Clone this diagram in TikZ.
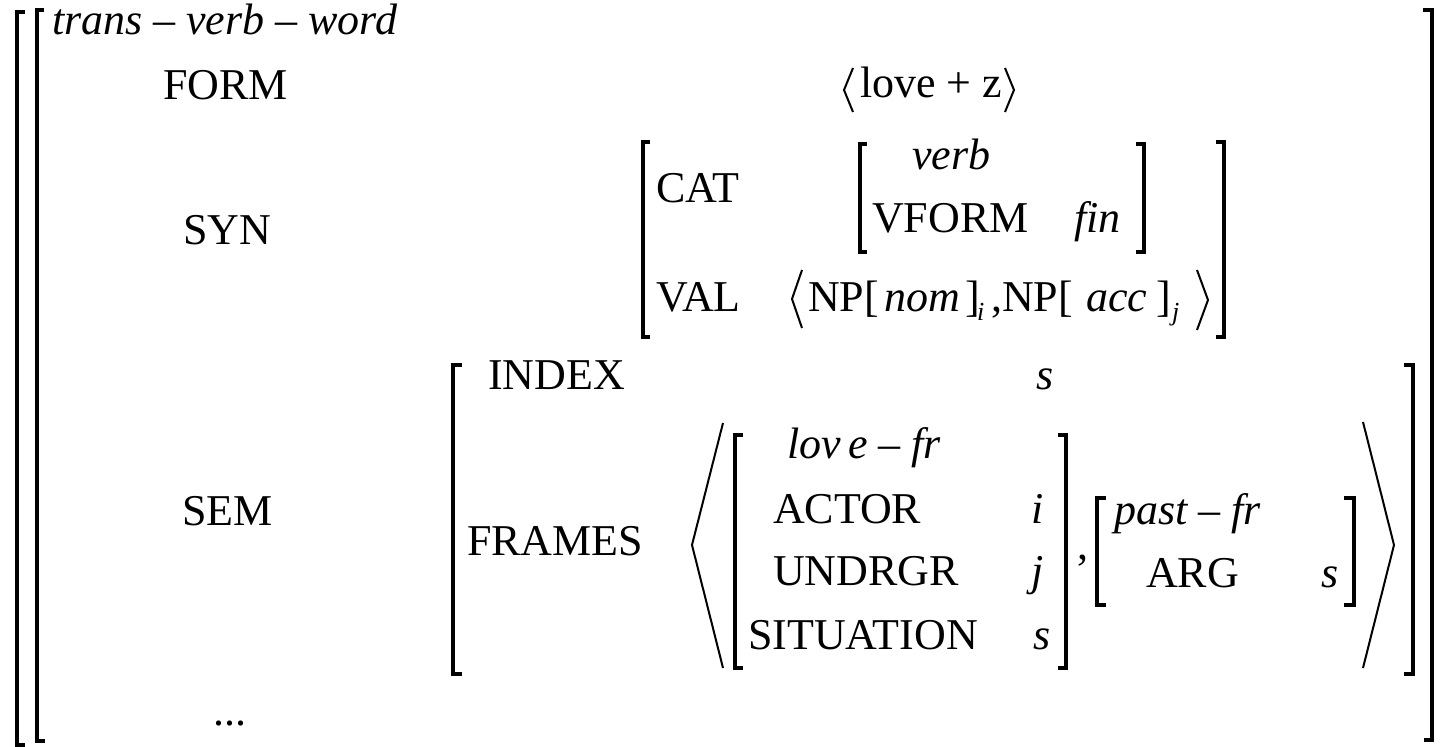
\documentclass[tikz,border=0pt]{standalone}
\usepackage{fontspec}
\setmainfont{Liberation Serif}
\begin{document}
\begin{tikzpicture}[x=0.5pt,y=-0.5pt]
\tikzstyle{every node}+=[inner sep=0pt,outer sep=0pt,anchor=base west,font=\fontsize{22}{26}\selectfont]
\tikzstyle{brak}=[black,line width=1.8pt]
\tikzstyle{ang}=[black,line width=1pt]
\tikzstyle{sub}=[font=\fontsize{13}{15}\selectfont\itshape]
\useasboundingbox (0,0) rectangle (1442,747);
\draw [brak] (25,12) -- (17,12) -- (17,745) -- (25,745);
\draw [brak] (44,10) -- (37,10) -- (37,741) -- (45,741);
\draw [brak] (1423,10) -- (1432,10) -- (1432,740) -- (1424,740);
\node (type) at (52,35) {\itshape trans – verb – word};
\node (form) at (163,100) {FORM};
\draw [ang] (853,68) -- (844,90) -- (853,112);
\node (lovez) at (860,98) {love + z};
\draw [ang] (1005,68) -- (1014,90) -- (1005,112);
\node (syn) at (183,245) {SYN};
\draw [brak] (650,142) -- (643,142) -- (643,337) -- (650,337);
\draw [brak] (1216,142) -- (1224,142) -- (1224,337) -- (1216,337);
\node (cat) at (656,203) {CAT};
\draw [brak] (867,144) -- (860,144) -- (860,252) -- (867,252);
\draw [brak] (1136,144) -- (1144,144) -- (1144,252) -- (1136,252);
\node (verb) at (912,170) {\itshape verb};
\node (vform) at (872,233) {VFORM};
\node (fin) at (1074,233) {\itshape fin};
\node (val) at (656,312) {VAL};
\draw [ang] (802,270) -- (792,299) -- (802,328);
\node (npa) at (808,312) {NP[};
\node (nom) at (884,312) {\itshape nom};
\node (rba) at (965,312) {]};
\node [sub] (subi) at (977,321) {i};
\node (npb) at (991,312) {,NP[};
\node (acc) at (1086,312) {\itshape acc};
\node (rbb) at (1156,312) {]};
\node [sub] (subj) at (1172,321) {j};
\draw [ang] (1197,270) -- (1208,300) -- (1197,330);
\node (sem) at (182,526) {SEM};
\draw [brak] (462,365) -- (453,365) -- (453,674) -- (462,674);
\draw [brak] (1404,365) -- (1413,365) -- (1413,674) -- (1404,674);
\node (index) at (488,390) {INDEX};
\node (sidx) at (1036,390) {\itshape s};
\node (frames) at (467,556) {FRAMES};
\draw [ang] (723,423) -- (692,545) -- (723,668);
\draw [brak] (743,435) -- (735,435) -- (735,668) -- (743,668);
\draw [brak] (1058,435) -- (1066,435) -- (1066,668) -- (1058,668);
\node (lovefr) at (787,459) {\itshape lov\,e – fr};
\node (actor) at (773,524) {ACTOR};
\node (vi) at (1031,524) {\itshape i};
\node (undrgr) at (773,586) {UNDRGR};
\node (vj) at (1031,586) {\itshape j};
\node (situation) at (748,650) {SITUATION};
\node (vs) at (1033,650) {\itshape s};
\node (comma) at (1077,560) {,};
\draw [brak] (1106,498) -- (1097,498) -- (1097,605) -- (1106,605);
\draw [brak] (1344,498) -- (1354,498) -- (1354,605) -- (1344,605);
\node (pastfr) at (1114,525) {\itshape past – fr};
\node (arg) at (1146,588) {ARG};
\node (sarg) at (1321,588) {\itshape s};
\draw [ang] (1363,422) -- (1394,545) -- (1363,668);
\node (dots) at (213,726) {...};
\end{tikzpicture}
\end{document}
